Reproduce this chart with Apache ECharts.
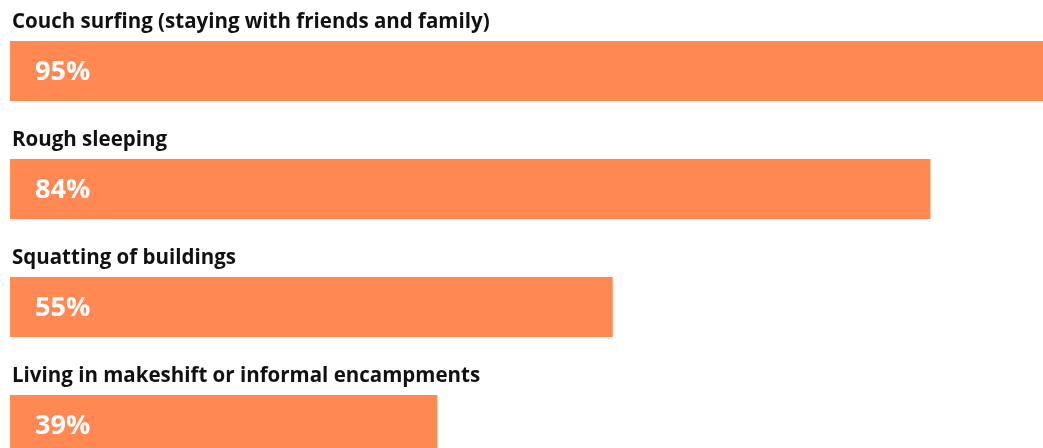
<!DOCTYPE html>
<html><head><meta charset="utf-8">
<script src="https://cdn.jsdelivr.net/npm/echarts@6/dist/echarts.min.js"></script>
<style>html,body{margin:0;padding:0;background:#fff;overflow:hidden;width:1043px;height:448px}#c{width:1051px;height:484px}</style>
</head><body><div id="c"></div>
<script>
const categories = ["Couch surfing (staying with friends and family)", "Rough sleeping", "Squatting of buildings", "Living in makeshift or informal encampments"];
const values = [95, 84, 55, 39];

const chart = echarts.init(document.getElementById('c'), null, {renderer: 'canvas'});
chart.setOption({
  animation: false,
  grid: {left: 10, right: 0, top: 12, bottom: 0},
  xAxis: {type: 'value', min: 0, max: 95, show: false},
  yAxis: {type: 'category', data: categories, inverse: true, show: false},
  series: [
    {
      type: 'bar', data: values, barWidth: 60, barGap: '-100%',
      itemStyle: {color: '#FF8853'},
      label: {show: true, position: [25, 31], align: 'left', verticalAlign: 'middle',
        formatter: '{c}%', color: '#fff', fontFamily: 'Open Sans', fontWeight: 'bold', fontSize: 27}
    },
    {
      type: 'bar', data: values, barWidth: 60, barGap: '-100%',
      itemStyle: {color: 'rgba(0,0,0,0)'}, silent: true,
      label: {show: true, position: [2, -19], align: 'left', verticalAlign: 'middle',
        formatter: '{b}', color: '#111', fontFamily: 'Open Sans', fontWeight: 'bold', fontSize: 20.5}
    }
  ]
});
</script></body></html>
